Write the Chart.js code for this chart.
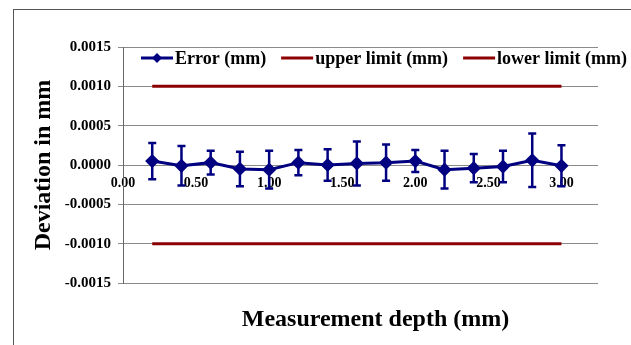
<!DOCTYPE html>
<html>
<head>
<meta charset="utf-8">
<script src="https://cdn.jsdelivr.net/npm/chart.js@4/dist/chart.umd.min.js"></script>
<style>
  html, body { margin: 0; padding: 0; background: #fff; }
  #wrap { position: relative; width: 631px; height: 345px; overflow: hidden; }
  #frame { position: absolute; left: 13px; top: 9px; width: 700px; height: 400px;
           border-left: 1px solid #555; border-top: 1px solid #555; }
  canvas { position: absolute; left: 0; top: 0; }
</style>
</head>
<body>
<div id="wrap">
  <div id="frame"></div>
  <canvas id="grafico" width="631" height="345"></canvas>
</div>
<script>
// dados
const depths = [0.2, 0.4, 0.6, 0.8, 1.0, 1.2, 1.4, 1.6, 1.8, 2.0, 2.2, 2.4, 2.6, 2.8, 3.0];
const errorMm = [0.00005, -0.00001, 0.00003, -0.00005, -0.00006, 0.00003, 0.0, 0.00002, 0.00003, 0.00005, -0.00006, -0.00004, -0.00002, 0.00006, -0.00001];
const errorBar = [0.00023, 0.00025, 0.00015, 0.00022, 0.00024, 0.00016, 0.00020, 0.00028, 0.00023, 0.00014, 0.00024, 0.00018, 0.00020, 0.00034, 0.00026];
const limitDepths = [0.2, 3.0];
const upperLimit = [0.001, 0.001];
const lowerLimit = [-0.001, -0.001];
const xTicks = [0, 0.5, 1.0, 1.5, 2.0, 2.5, 3.0];
const yTicks = [-0.0015, -0.001, -0.0005, 0, 0.0005, 0.001, 0.0015];

const navy = '#000080';
const darkRed = '#8B0000';
const fontFam = '"Liberation Serif", "Times New Roman", serif';

const toXY = (xs, ys) => xs.map((x, i) => ({ x: x, y: ys[i] }));

// barras de erro
const errorBarsPlugin = {
  id: 'errorBars',
  afterDatasetsDraw(chart) {
    const ctx = chart.ctx;
    const xs = chart.scales.x, ys = chart.scales.y;
    ctx.save();
    ctx.strokeStyle = navy;
    ctx.lineWidth = 2.5;
    depths.forEach((d, i) => {
      const px = xs.getPixelForValue(d);
      const top = ys.getPixelForValue(errorMm[i] + errorBar[i]);
      const bot = ys.getPixelForValue(errorMm[i] - errorBar[i]);
      ctx.beginPath();
      ctx.moveTo(px, top); ctx.lineTo(px, bot);
      ctx.moveTo(px - 4, top); ctx.lineTo(px + 4, top);
      ctx.moveTo(px - 4, bot); ctx.lineTo(px + 4, bot);
      ctx.stroke();
    });
    ctx.restore();
  }
};

// legenda dentro da área do gráfico + título do eixo x
const overlayPlugin = {
  id: 'overlay',
  afterDraw(chart) {
    const ctx = chart.ctx;
    const area = chart.chartArea;
    ctx.save();
    ctx.font = 'bold 18px ' + fontFam;
    ctx.textBaseline = 'middle';
    ctx.textAlign = 'left';
    let x = area.left + 18;
    const y = area.top + 11;
    chart.data.datasets.forEach(ds => {
      ctx.strokeStyle = ds.borderColor;
      ctx.lineWidth = 3;
      ctx.beginPath();
      ctx.moveTo(x, y); ctx.lineTo(x + 32, y);
      ctx.stroke();
      if (ds.pointRadius > 0) {
        ctx.fillStyle = ds.borderColor;
        ctx.beginPath();
        ctx.moveTo(x + 16, y - 5); ctx.lineTo(x + 21, y);
        ctx.lineTo(x + 16, y + 5); ctx.lineTo(x + 11, y);
        ctx.closePath(); ctx.fill();
      }
      ctx.fillStyle = '#000';
      ctx.fillText(ds.label, x + 34, y + 1);
      x += 34 + ctx.measureText(ds.label).width + 15;
    });

    ctx.font = 'bold 24px ' + fontFam;
    ctx.textAlign = 'center';
    ctx.fillText('Measurement depth (mm)', (area.left + area.right) / 2 + 15, 320);
    ctx.restore();
  }
};

const ctx = document.getElementById('grafico').getContext('2d');
new Chart(ctx, {
  type: 'line',
  data: {
    datasets: [
      {
        label: 'Error (mm)',
        data: toXY(depths, errorMm),
        borderColor: navy,
        backgroundColor: navy,
        borderWidth: 3,
        pointStyle: 'rectRot',
        pointRadius: 5,
        tension: 0
      },
      {
        label: 'upper limit (mm)',
        data: toXY(limitDepths, upperLimit),
        borderColor: darkRed,
        borderWidth: 3,
        pointRadius: 0
      },
      {
        label: 'lower limit (mm)',
        data: toXY(limitDepths, lowerLimit),
        borderColor: darkRed,
        borderWidth: 3,
        pointRadius: 0
      }
    ]
  },
  options: {
    responsive: false,
    animation: false,
    layout: { padding: { top: 47, right: 33, bottom: 62, left: 20 } },
    plugins: {
      legend: { display: false },
      tooltip: { enabled: false }
    },
    scales: {
      x: {
        type: 'linear',
        position: { y: 0 },
        min: 0,
        max: 3.25,
        afterBuildTicks: scale => { scale.ticks = xTicks.map(v => ({ value: v })); },
        grid: { display: false, drawTicks: false },
        border: { display: false },
        ticks: {
          padding: 10,
          maxRotation: 0,
          autoSkip: false,
          color: '#000',
          font: { family: fontFam, size: 14, weight: 'bold' },
          callback: v => Number(v).toFixed(2)
        }
      },
      y: {
        min: -0.0015,
        max: 0.0015,
        afterBuildTicks: scale => { scale.ticks = yTicks.map(v => ({ value: v })); },
        afterFit: scale => { scale.width = 103; },
        grid: { color: '#8a8a8a', lineWidth: 1, tickLength: 5 },
        border: { color: '#666', width: 1 },
        ticks: {
          padding: 7,
          color: '#000',
          font: { family: fontFam, size: 15, weight: 'bold' },
          callback: v => Math.abs(v) < 1e-10 ? '0.0000' : Number(v).toFixed(4)
        },
        title: {
          display: true,
          text: 'Deviation in mm',
          color: '#000',
          padding: { top: 9, bottom: 0 },
          font: { family: fontFam, size: 24, weight: 'bold' }
        }
      }
    }
  },
  plugins: [errorBarsPlugin, overlayPlugin]
});
</script>
</body>
</html>
